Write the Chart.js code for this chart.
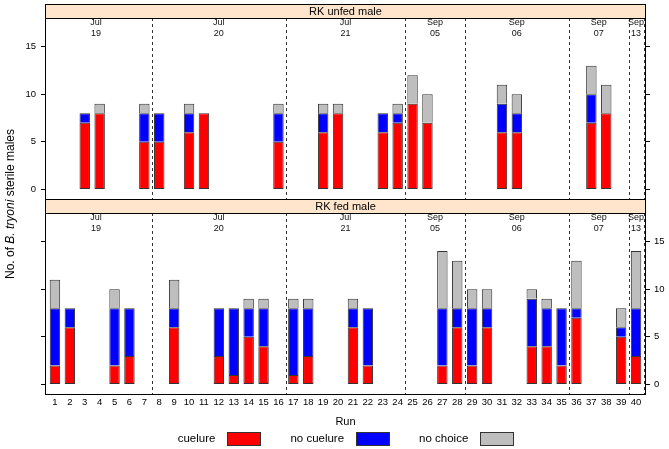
<!DOCTYPE html>
<html><head><meta charset="utf-8">
<script src="https://cdn.jsdelivr.net/npm/chart.js@4"></script>
<style>
html,body{margin:0;padding:0;background:#fff}
#wrap{position:relative;width:669px;height:449px;background:#fff}
canvas{position:absolute;left:0;top:0}
</style>
</head><body>
<div id="wrap"><canvas id="cTop" width="669" height="449"></canvas><canvas id="cBot" width="669" height="449"></canvas></div>
<script>
// ---- data ----
const runs = [1,2,3,4,5,6,7,8,9,10,11,12,13,14,15,16,17,18,19,20,21,22,23,24,25,26,27,28,29,30,31,32,33,34,35,36,37,38,39,40];
const yTicks = [0,5,10,15];
const seriesNames = ['cuelure','no cuelure','no choice'];

// RK unfed male
const unfedCuelure   = [0,0,7,8,0,0,5,5,0,6,8,0,0,0,0,5,0,0,6,8,0,0,6,7,9,7,0,0,0,0,6,6,0,0,0,0,7,8,0,0];
const unfedNoCuelure = [0,0,1,0,0,0,3,3,0,2,0,0,0,0,0,3,0,0,2,0,0,0,2,1,0,0,0,0,0,0,3,2,0,0,0,0,3,0,0,0];
const unfedNoChoice  = [0,0,0,1,0,0,1,0,0,1,0,0,0,0,0,1,0,0,1,1,0,0,0,1,3,3,0,0,0,0,2,2,0,0,0,0,3,3,0,0];

// RK fed male
const fedCuelure   = [2,6,0,0,2,3,0,0,6,0,0,3,1,5,4,0,1,3,0,0,6,2,0,0,0,0,2,6,2,6,0,0,4,4,2,7,0,0,5,3];
const fedNoCuelure = [6,2,0,0,6,5,0,0,2,0,0,5,7,3,4,0,7,5,0,0,2,6,0,0,0,0,6,2,6,2,0,0,5,4,6,1,0,0,1,5];
const fedNoChoice  = [3,0,0,0,2,0,0,0,3,0,0,0,0,1,1,0,1,1,0,0,1,0,0,0,0,0,6,5,2,2,0,0,1,1,0,5,0,0,2,6];

// date groups
const groupBreaks  = [7.5,16.5,24.5,28.5,35.5,39.5,40.5];
const groupCenters = [3.75,12,20.5,26.5,32,37.5,40];
const groupMonths  = ['Jul','Jul','Jul','Sep','Sep','Sep','Sep'];
const groupDays    = ['19','20','21','05','06','07','13'];

// ---- styling ----
const FONT = "'Liberation Sans', Arial, Helvetica, sans-serif";
const seriesColors = ['#FF0000','#0000FF','#BEBEBE'];
const STRIP_FILL = '#FFE5CC';

function buildDatasets(cu, nc, ch){
  return [cu, nc, ch].map((vals, i) => ({
    label: seriesNames[i],
    data: runs.map((r,k)=>({x:r, y:vals[k]})).filter(p=>p.y>0),
    backgroundColor: seriesColors[i],
    borderColor: '#333',
    borderWidth: i===0 ? 1 : {top:1,left:1,right:1,bottom:0},
    borderSkipped: false,
    barPercentage: 0.7,
    categoryPercentage: 1,
    stack: 's'
  }));
}

function panelPlugin(title, stripTop, drawExtra){
  return {
    id: 'panel_'+title.replace(/\s/g,''),
    beforeDatasetsDraw(chart){
      const {ctx, chartArea:a, scales:{x}} = chart;
      ctx.save();
      ctx.setLineDash([3,3]);
      ctx.strokeStyle = '#333';
      ctx.lineWidth = 1;
      groupBreaks.forEach(b=>{
        const px = Math.round(x.getPixelForValue(b)) + 0.5;
        ctx.beginPath(); ctx.moveTo(px, a.top); ctx.lineTo(px, a.bottom); ctx.stroke();
      });
      ctx.setLineDash([]);
      ctx.fillStyle = '#111';
      ctx.font = '9px ' + FONT;
      ctx.textAlign = 'center';
      ctx.textBaseline = 'middle';
      groupCenters.forEach((c,i)=>{
        const px = x.getPixelForValue(c);
        ctx.fillText(groupMonths[i], px, a.top + 4.5);
        ctx.fillText(groupDays[i], px, a.top + 16);
      });
      ctx.restore();
    },
    afterDraw(chart){
      const {ctx, chartArea:a} = chart;
      ctx.save();
      const L = a.left - 0.5, R = a.right + 0.5;
      // strip
      ctx.fillStyle = STRIP_FILL;
      ctx.fillRect(L, stripTop, R-L, a.top - stripTop);
      ctx.strokeStyle = '#000';
      ctx.lineWidth = 1;
      ctx.beginPath(); ctx.moveTo(L, a.top+0.5); ctx.lineTo(R, a.top+0.5); ctx.stroke();
      ctx.fillStyle = '#000';
      ctx.font = '11px ' + FONT;
      ctx.textAlign = 'center';
      ctx.textBaseline = 'middle';
      ctx.fillText(title, (a.left + a.right)/2, (stripTop + a.top)/2 + 0.5);
      // panel border
      ctx.strokeRect(L, stripTop + 0.5, R-L, a.bottom - stripTop);
      ctx.restore();
      if (drawExtra) drawExtra(chart);
    }
  };
}

function yAxis(position, showLabels, width){
  return {
    type:'linear', position, min:-1, max:18, stacked: position==='left',
    grid:{drawOnChartArea:false, drawTicks:true, tickLength:5, color:'#000', lineWidth:1},
    border:{display:false},
    ticks:{display:true, color: showLabels ? '#000' : 'rgba(0,0,0,0)', font:{family:FONT, size:9.5}, padding: position==='left'?5:4},
    afterBuildTicks: s => { s.ticks = yTicks.map(v=>({value:v})); },
    afterFit: s => { s.width = width; }
  };
}

function makeChart(id, title, cu, nc, ch, isTop){
  const stripTop = isTop ? 4 : 199;
  const extra = isTop ? null : drawBottomExtras;
  return new Chart(document.getElementById(id), {
    type:'bar',
    data:{datasets: buildDatasets(cu, nc, ch)},
    options:{
      responsive:false, animation:false, devicePixelRatio:1,
      layout:{padding: isTop ? {top:18, bottom:250, left:0, right:0} : {top:213, bottom:0, left:0, right:0}},
      plugins:{legend:{display:false}, tooltip:{enabled:false}},
      scales:{
        x:{
          type:'linear', min:0.4, max:40.6, stacked:true, offset:false, display: !isTop,
          grid:{display:false, drawTicks:false}, border:{display:false},
          ticks:{autoSkip:false, maxRotation:0, color:'#000', font:{family:FONT, size:9.5}, padding:3},
          afterBuildTicks: s => { s.ticks = runs.map(v=>({value:v})); },
          afterFit: s => { s.height = isTop ? 0 : 55; }
        },
        y: yAxis('left', isTop, 46),
        y2: yAxis('right', !isTop, 24)
      }
    },
    plugins:[panelPlugin(title, stripTop, extra)]
  });
}

function drawBottomExtras(chart){
  const {ctx, chartArea:a} = chart;
  const cx = (a.left + a.right)/2;
  ctx.save();
  ctx.fillStyle = '#000';
  ctx.textBaseline = 'middle';
  // x title
  ctx.font = '11px ' + FONT;
  ctx.textAlign = 'center';
  ctx.fillText('Run', cx, 422);
  // legend
  const boxW = 33, boxH = 13, gapTB = 12, gapItem = 30;
  ctx.font = '11.5px ' + FONT;
  const widths = seriesNames.map(n=>ctx.measureText(n).width);
  const total = widths.reduce((s,w)=>s+w+gapTB+boxW,0) + gapItem*(seriesNames.length-1);
  let xx = cx - total/2;
  ctx.textAlign = 'left';
  seriesNames.forEach((n,i)=>{
    ctx.fillStyle = '#000';
    ctx.fillText(n, xx, 439);
    xx += widths[i] + gapTB;
    ctx.fillStyle = seriesColors[i];
    const bx = Math.round(xx)+0.5, by = 432.5;
    ctx.fillRect(bx, by, boxW, boxH);
    ctx.strokeStyle = '#333'; ctx.lineWidth = 1;
    ctx.strokeRect(bx, by, boxW, boxH);
    xx += boxW + gapItem;
  });
  // y title with italic species name
  ctx.translate(11, 204);
  ctx.rotate(-Math.PI/2);
  const parts = [['No. of ', 'normal'], ['B. tryoni', 'italic'], [' sterile males', 'normal']];
  const pw = parts.map(p=>{ctx.font = p[1]+' 12px '+FONT; return ctx.measureText(p[0]).width;});
  let tx = -pw.reduce((s,w)=>s+w,0)/2;
  ctx.fillStyle = '#000';
  ctx.textAlign = 'left';
  parts.forEach((p,i)=>{ ctx.font = p[1]+' 12px '+FONT; ctx.fillText(p[0], tx, 0); tx += pw[i]; });
  ctx.restore();
}

makeChart('cTop', 'RK unfed male', unfedCuelure, unfedNoCuelure, unfedNoChoice, true);
makeChart('cBot', 'RK fed male', fedCuelure, fedNoCuelure, fedNoChoice, false);
</script>
</body></html>
